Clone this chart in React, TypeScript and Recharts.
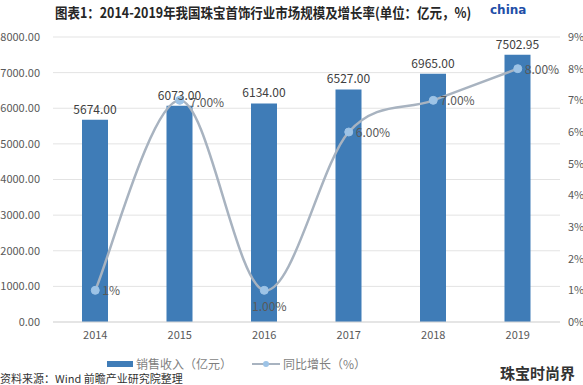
import { ComposedChart, Bar, Line, XAxis, YAxis, CartesianGrid, LabelList } from "recharts";

const years = ["2014", "2015", "2016", "2017", "2018", "2019"];
const revenue = [5674.0, 6073.0, 6134.0, 6527.0, 6965.0, 7502.95];
const growth = [1, 7, 1, 6, 7, 8];
const growthLabels = ["1%", "7.00%", "1.00%", "6.00%", "7.00%", "8.00%"];
const leftTicks = [0, 1000, 2000, 3000, 4000, 5000, 6000, 7000, 8000];
const rightTicks = [0, 1, 2, 3, 4, 5, 6, 7, 8, 9];

const data = years.map((year, i) => ({
  year,
  revenue: revenue[i],
  growth: growth[i],
  label: growthLabels[i],
}));

const FONT = '"Noto Sans CJK SC", "Noto Sans", sans-serif';
const BAR_COLOR = "#3f7cb7";
const LINE_COLOR = "#a8b3c0";
const DOT_COLOR = "#9dc3e6";

// Excel style smoothed line (catmull-rom like)
const excelCurve = (context: any) => {
  let pts: number[][] = [];
  return {
    areaStart() {},
    areaEnd() {},
    lineStart() {
      pts = [];
    },
    point(x: number, y: number) {
      pts.push([+x, +y]);
    },
    lineEnd() {
      if (!pts.length) return;
      context.moveTo(pts[0][0], pts[0][1]);
      for (let i = 0; i < pts.length - 1; i++) {
        const p0 = pts[i - 1] || pts[i];
        const p1 = pts[i];
        const p2 = pts[i + 1];
        const p3 = pts[i + 2] || p2;
        context.bezierCurveTo(
          p1[0] + (p2[0] - p0[0]) / 6,
          p1[1] + (p2[1] - p0[1]) / 6,
          p2[0] - (p3[0] - p1[0]) / 6,
          p2[1] - (p3[1] - p1[1]) / 6,
          p2[0],
          p2[1]
        );
      }
    },
  };
};

const GrowthLabel = (props: any) => {
  const { x, y, index } = props;
  const text = growthLabels[index];
  if (index === 2) {
    return (
      <text x={x + 5} y={y + 21} textAnchor="middle" fontSize={12} fill="#595959" fontFamily={FONT}>
        {text}
      </text>
    );
  }
  return (
    <text x={x + (index === 1 ? 10 : 7)} y={y + (index === 1 ? 7 : 5)} textAnchor="start" fontSize={12} fill="#595959" fontFamily={FONT}>
      {text}
    </text>
  );
};

export default function App() {
  return (
    <div style={{ position: "absolute", left: 0, top: 0, width: 583, height: 385, background: "#fff", overflow: "hidden" }}>
      <div
        style={{
          position: "absolute",
          left: 55,
          top: 2,
          fontFamily: FONT,
          fontWeight: 700,
          fontSize: 14,
          color: "#262626",
          whiteSpace: "nowrap",
          transform: "scaleX(0.89)",
          transformOrigin: "left top",
        }}
      >
        图表1：2014-2019年我国珠宝首饰行业市场规模及增长率(单位：亿元，%)
      </div>
      <div style={{ position: "absolute", left: 490, top: 3, fontFamily: "DejaVu Sans, sans-serif", fontWeight: 700, fontSize: 12, color: "#1f4fa8" }}>
        china
      </div>
      <ComposedChart width={583} height={385} data={data} margin={{ top: 37, right: 0, bottom: 33, left: 0 }}>
        <CartesianGrid yAxisId="left" vertical={false} stroke="#e3e3e3" />
        <XAxis
          dataKey="year"
          height={30}
          axisLine={{ stroke: "#d9d9d9" }}
          tickLine={false}
          tick={{ fontSize: 11, fill: "#595959", fontFamily: FONT }}
          tickMargin={3}
        />
        <YAxis
          yAxisId="left"
          domain={[0, 8000]}
          ticks={leftTicks}
          width={53}
          axisLine={false}
          tickLine={false}
          tickMargin={7}
          tick={{ fontSize: 11, fill: "#595959", fontFamily: FONT }}
          tickFormatter={(v: number) => v.toFixed(2)}
        />
        <YAxis
          yAxisId="right"
          orientation="right"
          domain={[0, 9]}
          ticks={rightTicks}
          width={23}
          axisLine={false}
          tickLine={false}
          tick={{ fontSize: 11, fill: "#595959", fontFamily: FONT }}
          tickFormatter={(v: number) => `${v}%`}
        />
        <Bar yAxisId="left" dataKey="revenue" fill={BAR_COLOR} barSize={26} isAnimationActive={false}>
          <LabelList
            dataKey="revenue"
            position="top"
            offset={6}
            formatter={(v: any) => Number(v).toFixed(2)}
            style={{ fontSize: 12, fill: "#404040", fontFamily: FONT }}
          />
        </Bar>
        <Line
          yAxisId="right"
          type={excelCurve as any}
          dataKey="growth"
          stroke={LINE_COLOR}
          strokeWidth={2.5}
          dot={{ r: 4, fill: DOT_COLOR, stroke: DOT_COLOR, strokeWidth: 1 }}
          isAnimationActive={false}
        >
          <LabelList dataKey="label" content={<GrowthLabel />} />
        </Line>
      </ComposedChart>
      <div
        style={{
          position: "absolute",
          left: 107,
          top: 355,
          display: "flex",
          alignItems: "center",
          fontFamily: FONT,
          fontSize: 12,
          color: "#7f7f7f",
          whiteSpace: "nowrap",
        }}
      >
        <span style={{ display: "inline-block", width: 26, height: 6, background: BAR_COLOR, marginRight: 3 }} />
        <span>销售收入（亿元）</span>
        <svg width={28} height={10} style={{ marginLeft: 20, marginRight: 3 }}>
          <line x1={0} y1={5} x2={28} y2={5} stroke={LINE_COLOR} strokeWidth={2} />
          <circle cx={14} cy={5} r={3} fill={DOT_COLOR} />
        </svg>
        <span>同比增长（%）</span>
      </div>
      <div style={{ position: "absolute", left: 500, top: 362, fontFamily: FONT, fontSize: 15, fontWeight: 700, color: "#333" }}>
        珠宝时尚界
      </div>
      <div style={{ position: "absolute", left: 0, top: 370, fontFamily: FONT, fontSize: 11, color: "#333", whiteSpace: "nowrap" }}>
        资料来源：Wind 前瞻产业研究院整理
      </div>
    </div>
  );
}
